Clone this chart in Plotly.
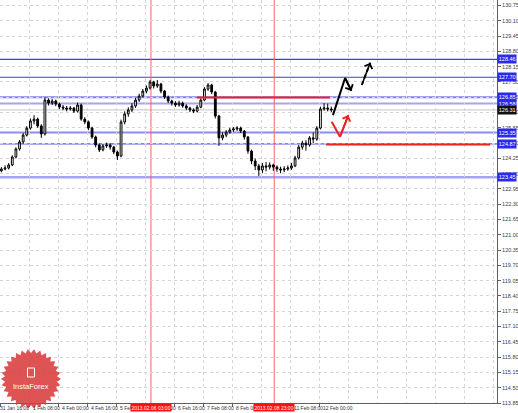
import math
import plotly.graph_objects as go

# ---------------- data ----------------
first_open = 123.72
close = [123.80, 123.84, 123.97, 124.31, 124.65, 124.95, 125.24, 125.54, 125.84, 125.92,
         125.63, 125.29, 126.73, 126.60, 126.69, 126.56, 126.43, 126.39, 126.35, 126.39,
         126.26, 126.52, 125.92, 125.80, 125.54, 125.16, 124.82, 124.61, 124.78, 124.82,
         124.73, 124.52, 124.35, 125.80, 126.14, 126.31, 126.48, 126.73, 126.90, 127.11,
         127.24, 127.50, 127.33, 127.41, 127.11, 126.86, 126.69, 126.60, 126.52, 126.60,
         126.48, 126.39, 126.31, 126.26, 126.43, 126.73, 127.20, 127.37, 127.07, 126.05,
         125.12, 125.24, 125.37, 125.46, 125.50, 125.54, 125.41, 125.16, 124.56, 124.14,
         123.93, 123.76, 123.93, 123.88, 123.97, 123.88, 123.80, 123.76, 123.80, 123.84,
         123.93, 124.27, 124.73, 124.90, 124.82, 125.12, 125.07, 125.54, 126.35, 126.39,
         126.35, 126.31]
high = [123.88, 123.95, 124.05, 124.38, 124.72, 125.03, 125.33, 125.62, 125.95, 126.09,
        125.98, 125.70, 126.85, 126.80, 126.78, 126.75, 126.62, 126.52, 126.48, 126.47,
        126.44, 126.62, 126.58, 126.00, 125.86, 125.60, 125.22, 124.88, 124.86, 124.92,
        124.90, 124.78, 124.58, 125.90, 126.25, 126.42, 126.60, 126.82, 127.00, 127.20,
        127.35, 127.58, 127.55, 127.58, 127.46, 127.16, 126.92, 126.75, 126.68, 126.70,
        126.66, 126.55, 126.45, 126.38, 126.52, 126.80, 127.28, 127.45, 127.42, 127.12,
        126.10, 125.36, 125.45, 125.55, 125.58, 125.62, 125.60, 125.46, 125.20, 124.62,
        124.25, 124.02, 124.05, 124.10, 124.08, 124.02, 123.95, 123.90, 123.92, 123.95,
        124.06, 124.36, 124.82, 125.00, 125.02, 125.20, 125.35, 125.62, 126.45, 126.60,
        126.58, 126.45]
low = [123.66, 123.74, 123.78, 123.92, 124.25, 124.58, 124.88, 125.18, 125.47, 125.70,
       125.55, 125.12, 125.22, 126.50, 126.52, 126.47, 126.35, 126.30, 126.25, 126.28,
       126.18, 126.20, 125.85, 125.70, 125.45, 125.08, 124.72, 124.52, 124.55, 124.70,
       124.62, 124.43, 124.18, 124.30, 125.70, 126.02, 126.22, 126.40, 126.65, 126.85,
       127.02, 127.18, 127.22, 127.25, 127.02, 126.78, 126.60, 126.50, 126.44, 126.45,
       126.40, 126.30, 126.22, 126.18, 126.20, 126.38, 126.68, 127.12, 126.98, 125.95,
       124.78, 125.02, 125.15, 125.30, 125.38, 125.42, 125.33, 125.05, 124.45, 124.00,
       123.75, 123.50, 123.62, 123.70, 123.78, 123.72, 123.68, 123.62, 123.66, 123.72,
       123.76, 123.88, 124.20, 124.62, 124.58, 124.75, 124.90, 125.00, 125.48, 126.28,
       126.25, 126.22]
candle_x = [2 * j + 0.5 for j in range(len(close))]   # H1 bar index of each 2-bar candle
opens = [first_open] + close[:-1]

price_ticks = [130.75, 130.10, 129.45, 128.80, 128.15, 127.50, 126.85, 126.20, 125.55,
               124.90, 124.25, 123.60, 122.95, 122.30, 121.65, 121.00, 120.35, 119.70,
               119.05, 118.40, 117.75, 117.10, 116.45, 115.80, 115.15, 114.50, 113.85]

date_tick_bars = [0, 16, 32, 48, 64, 80, 96, 112, 128, 144, 160, 176]
date_tick_labels = ["31 Jan 16:00", "1 Feb 08:00", "4 Feb 00:00", "4 Feb 16:00", "5 Feb 08:00",
                    "6 Feb 00:00", "6 Feb 16:00", "7 Feb 08:00", "8 Feb 00:00", "8 Feb 16:00",
                    "11 Feb 08:00", "12 Feb 00:00"]
grid_bars = [0, 16, 32, 48, 64, 80, 96, 112, 128, 144, 160, 176, 192, 208, 224, 240, 256, 272]

level_prices = [128.46, 127.70, 126.85, 126.58, 125.35, 124.87, 123.45]
level_colors = ["#3c3ce8", "#3c3ce8", "#8080f0", "#a4a4f4", "#8c8cf0", "#5a5aee", "#a4a4f4"]
level_widths = [1.2, 1.2, 2, 2, 2, 1.2, 2.5]
current_price = 126.31

red_seg_start = [108.4, 179.6]
red_seg_end = [181.8, 270.1]
red_seg_price = [126.84, 124.84]

vline_bars = [83, 151]
vline_labels = ["2013.02.06 03:00", "2013.02.08 23:00"]

fc_black_x = [183.4, 190.1, 193.6]
fc_black_y = [126.09, 127.67, 127.12]
fc_dash_x = [199.3, 204.0]
fc_dash_y = [127.37, 128.32]
fc_red_x = [182.7, 187.3, 191.9]
fc_red_y = [125.81, 125.17, 126.09]

# ---------------- figure ----------------
W, H = 518, 413
ML, MR, MT, MB = 0, 21, 0, 10
PW, PH = W - ML - MR, H - MT - MB
X_RANGE = [-0.28, 273.9]
Y_RANGE = [113.85, 130.984]
FONT = "Liberation Sans"

fig = go.Figure()

shapes = []
annotations = []

# horizontal levels
for p, c, w in zip(level_prices, level_colors, level_widths):
    shapes.append(dict(type="line", xref="paper", x0=0, x1=1, yref="y", y0=p, y1=p,
                       line=dict(color=c, width=w), layer="between"))
shapes.append(dict(type="line", xref="paper", x0=0, x1=1, yref="y", y0=current_price,
                   y1=current_price, line=dict(color="#c4c4c4", width=1), layer="between"))

# red vertical lines
for b in vline_bars:
    shapes.append(dict(type="line", xref="x", x0=b, x1=b, yref="paper", y0=0, y1=1,
                       line=dict(color="#ff6060", width=1), layer="between"))

# red horizontal segments
for s, e, p in zip(red_seg_start, red_seg_end, red_seg_price):
    shapes.append(dict(type="line", xref="x", x0=s, x1=e, yref="y", y0=p, y1=p,
                       line=dict(color="#f02020", width=2)))

fig.add_trace(go.Candlestick(
    x=candle_x, open=opens, high=high, low=low, close=close,
    increasing=dict(line=dict(color="#000000", width=1), fillcolor="#ffffff"),
    decreasing=dict(line=dict(color="#000000", width=1), fillcolor="#000000"),
    whiskerwidth=0, showlegend=False, hoverinfo="skip"))

# forecast paths
fig.add_trace(go.Scatter(x=fc_black_x, y=fc_black_y, mode="lines",
                         line=dict(color="#000000", width=2), showlegend=False, hoverinfo="skip"))
fig.add_trace(go.Scatter(x=fc_dash_x, y=fc_dash_y, mode="lines",
                         line=dict(color="#000000", width=2, dash="4px,3px"),
                         showlegend=False, hoverinfo="skip"))
fig.add_trace(go.Scatter(x=fc_red_x, y=fc_red_y, mode="lines",
                         line=dict(color="#f02020", width=2), showlegend=False, hoverinfo="skip"))

for xs, ys, col in [(fc_black_x, fc_black_y, "#000000"), (fc_dash_x, fc_dash_y, "#000000"),
                    (fc_red_x, fc_red_y, "#f02020")]:
    annotations.append(dict(x=xs[-1], y=ys[-1], ax=xs[-2], ay=ys[-2], xref="x", yref="y",
                            axref="x", ayref="y", text="", showarrow=True, arrowhead=4,
                            arrowsize=1, arrowwidth=1.6, arrowcolor=col, standoff=0))

# date labels
for b, t in zip(date_tick_bars, date_tick_labels):
    annotations.append(dict(x=b, y=0, xref="x", yref="paper", yanchor="top", xanchor="left",
                            xshift=(-3 if b == 0 else 1), yshift=0, text=t, showarrow=False,
                            font=dict(size=5, color="#333333", family=FONT)))

# logo (starburst)
cx, cy, ro, ri, n = 31, 379, 30, 26, 30
pts = []
for k in range(2 * n):
    r = ro if k % 2 == 0 else ri
    a = math.pi * k / n
    px = cx + r * math.cos(a)
    py = cy + r * math.sin(a)
    pts.append((px / PW, (PH - py) / PH))
path = "M " + " L ".join(f"{x:.4f},{y:.4f}" for x, y in pts) + " Z"
shapes.append(dict(type="path", xref="paper", yref="paper", path=path,
                   fillcolor="#da3c3c", line=dict(width=0), opacity=0.88, layer="above"))
shapes.append(dict(type="rect", xref="paper", yref="paper",
                   x0=27.5 / PW, x1=34.5 / PW, y0=(PH - 377) / PH, y1=(PH - 368) / PH,
                   line=dict(color="#ffffff", width=1), fillcolor="rgba(0,0,0,0)", layer="above"))
annotations.append(dict(x=cx / PW, y=(PH - 386) / PH, xref="paper", yref="paper",
                        xanchor="center", yanchor="middle",
                        text="InstaForex", showarrow=False,
                        font=dict(size=7.5, color="#ffffff", family=FONT)))

# vertical line time boxes
for b, t in zip(vline_bars, vline_labels):
    annotations.append(dict(x=b, y=0, xref="x", yref="paper", yanchor="top", xanchor="center",
                            yshift=0, text=t, showarrow=False, bgcolor="#ff1010", borderpad=0.5,
                            font=dict(size=5, color="#ffffff", family=FONT)))

# right price boxes
for p in level_prices:
    annotations.append(dict(x=1, y=p, xref="paper", yref="y", xanchor="left", yanchor="middle",
                            xshift=0, text=f"{p:.2f}", showarrow=False, bgcolor="#2a2af0",
                            borderpad=0.8, font=dict(size=5.5, color="#ffffff", family=FONT)))
annotations.append(dict(x=1, y=current_price, xref="paper", yref="y", xanchor="left",
                        yanchor="middle", xshift=0, text=f"{current_price:.2f}", showarrow=False,
                        bgcolor="#111111", borderpad=0.8,
                        font=dict(size=5.5, color="#ffffff", family=FONT)))

fig.update_layout(
    width=W, height=H, margin=dict(l=ML, r=MR, t=MT, b=MB, pad=0, autoexpand=False),
    paper_bgcolor="#ffffff", plot_bgcolor="#ffffff", showlegend=False,
    shapes=shapes, annotations=annotations,
    xaxis=dict(range=X_RANGE, tickvals=grid_bars, showticklabels=False, ticks="",
               showgrid=True, gridcolor="#d6d6d6", griddash="dot", gridwidth=1,
               zeroline=False, showline=True, linecolor="#606060", linewidth=1,
               rangeslider=dict(visible=False), fixedrange=True, automargin=False,
               minor=dict(tickvals=date_tick_bars, ticks="outside", ticklen=3,
                          tickcolor="#606060", showgrid=False)),
    yaxis=dict(range=Y_RANGE, side="right", tickvals=price_ticks,
               ticktext=[f"{v:.2f}" for v in price_ticks],
               tickfont=dict(size=5.5, color="#404040", family=FONT),
               ticks="outside", ticklen=3, tickcolor="#606060", automargin=False,
               showgrid=True, gridcolor="#d6d6d6", griddash="dot", gridwidth=1,
               zeroline=False, showline=True, linecolor="#606060", linewidth=1,
               fixedrange=True),
)

fig.write_html("out.html", config={"displayModeBar": False},
               post_script="document.body.style.margin='0';document.body.style.padding='0';")
